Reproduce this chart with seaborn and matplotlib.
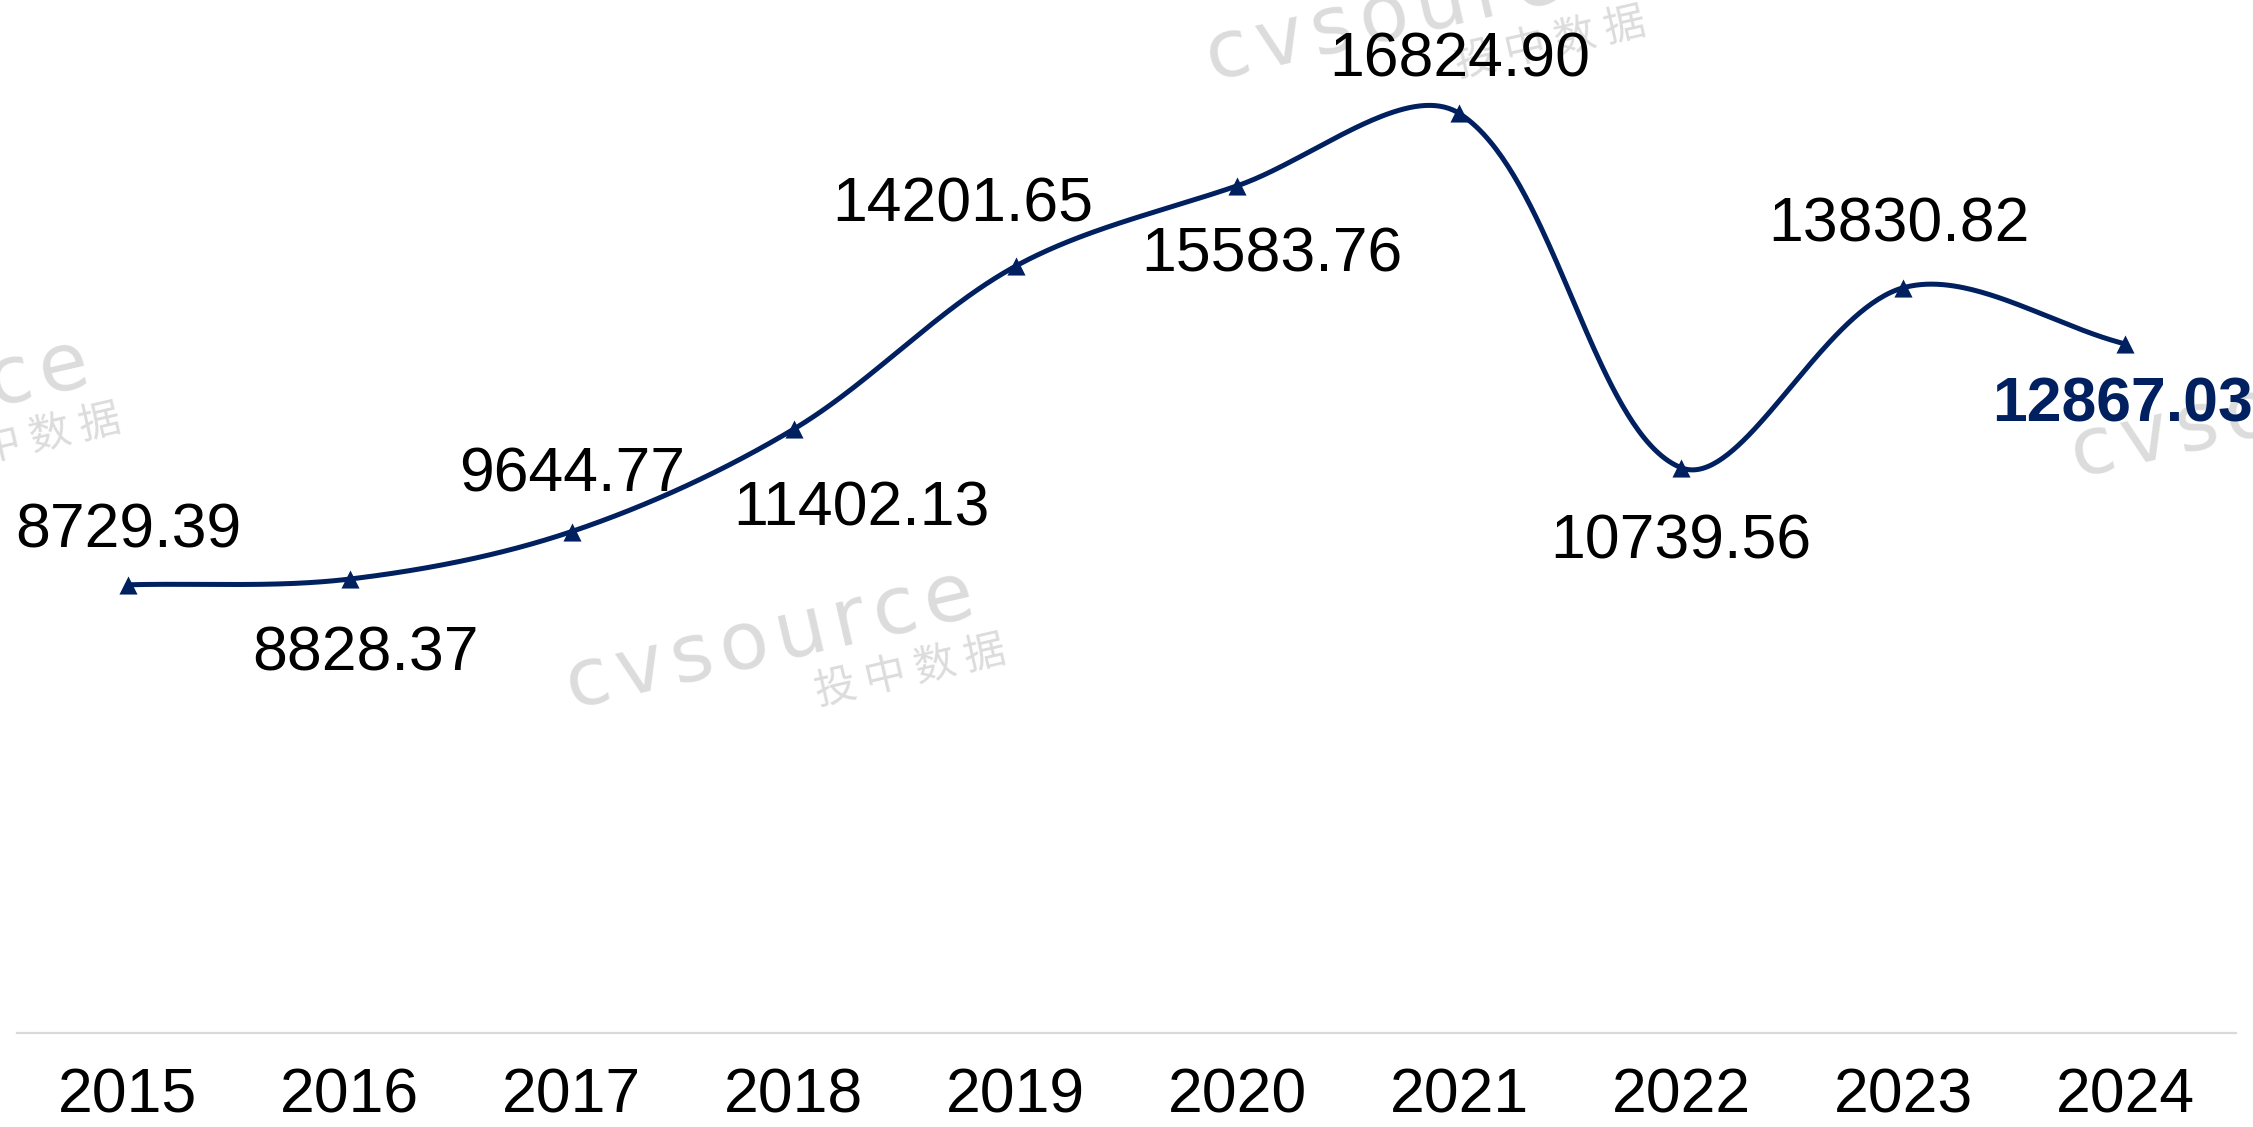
import numpy as np
import pandas as pd
import matplotlib
matplotlib.use("Agg")
import matplotlib.pyplot as plt
import seaborn as sns

# ---- data ----
years = ["2015", "2016", "2017", "2018", "2019", "2020", "2021", "2022", "2023", "2024"]
values = [8729.39, 8828.37, 9644.77, 11402.13, 14201.65, 15583.76, 16824.90, 10739.56, 13830.82, 12867.03]
value_labels = ["8729.39", "8828.37", "9644.77", "11402.13", "14201.65", "15583.76",
                "16824.90", "10739.56", "13830.82", "12867.03"]

# label offsets in pixels (style only)
label_offsets = [(0, 60), (16, -68), (0, 63), (68, -73), (-53, 68), (34, -63),
                 (0, 60), (0, -68), (-4, 69), (-3, -55)]

NAVY = "#002060"

sns.set_theme(style="white")
plt.rcParams["font.family"] = ["Liberation Sans", "DejaVu Sans"]

W, H = 2253, 1127
fig = plt.figure(figsize=(W / 100, H / 100), dpi=100)
AX_L, AX_R, AX_B = 17, 2236, 1033
ax = fig.add_axes([AX_L / W, 1 - AX_B / H, (AX_R - AX_L) / W, AX_B / H])
YMIN, YMAX = 1031, 18774
ax.set_xlim(-0.5, len(values) - 0.5)
ax.set_ylim(YMIN, YMAX)

x = np.arange(len(values), dtype=float)
y = np.array(values, dtype=float)

# Excel-style smoothed curve: Bezier through the points, arms weighted by chord length
sx = (AX_R - AX_L) / len(values)
sy = AX_B / (YMAX - YMIN)
P = np.column_stack([x * sx, y * sy])          # pixel-like space
n = len(P)
curve = []
t = np.linspace(0, 1, 80)[:, None]
def arms(i):
    p_prev = P[max(i - 1, 0)]
    p_next = P[min(i + 1, n - 1)]
    d_prev = np.linalg.norm(P[i] - p_prev)
    d_next = np.linalg.norm(p_next - P[i])
    tot = d_prev + d_next
    tan = p_next - p_prev
    if tot == 0:
        return np.zeros(2), np.zeros(2)
    return tan * d_prev / tot / 3.0, tan * d_next / tot / 3.0
for i in range(n - 1):
    p1, p2 = P[i], P[i + 1]
    _, a_out = arms(i)
    a_in, _ = arms(i + 1)
    c1 = p1 + a_out
    c2 = p2 - a_in
    seg = ((1 - t) ** 3) * p1 + 3 * ((1 - t) ** 2) * t * c1 + 3 * (1 - t) * t ** 2 * c2 + t ** 3 * p2
    curve.append(seg if i == 0 else seg[1:])
curve = np.vstack(curve)
curve_df = pd.DataFrame({"x": curve[:, 0] / sx, "y": curve[:, 1] / sy})

sns.lineplot(data=curve_df, x="x", y="y", sort=False, estimator=None, ax=ax,
             color=NAVY, linewidth=3.6, zorder=3)
pts = pd.DataFrame({"x": x, "y": y})
sns.scatterplot(data=pts, x="x", y="y", ax=ax, marker="^", s=170, color=NAVY,
                edgecolor=NAVY, linewidth=0, zorder=4)

for i, (xv, yv, lab) in enumerate(zip(x, y, value_labels)):
    dx, dy = label_offsets[i]
    last = i == len(values) - 1
    ax.annotate(lab, (xv, yv), xytext=(dx, dy), textcoords="offset pixels",
                ha="center", va="center_baseline", fontsize=45,
                fontweight="bold" if last else "normal",
                color=NAVY if last else "black", zorder=5, annotation_clip=False)

ax.set_xticks(x)
ax.set_xticklabels(years, fontsize=45, color="black")
ax.set_yticks([])
ax.set_xlabel("")
ax.set_ylabel("")
ax.tick_params(axis="x", length=0, pad=24)
for s in ["top", "right", "left"]:
    ax.spines[s].set_visible(False)
ax.spines["bottom"].set_color("#d9d9d9")
ax.spines["bottom"].set_linewidth(1.6)
ax.patch.set_alpha(0)

# watermarks (drawn behind the chart)
WM = "#dcdcdc"
HS = "\u200a"
WM_TEXT = HS.join("cvsource")
def watermark(cx, cy):
    fig.text(cx / W, 1 - cy / H, WM_TEXT, fontsize=58, color=WM, rotation=13,
             ha="center", va="center", family=["DejaVu Sans"], zorder=-1)
    fig.text((cx + 140) / W, 1 - (cy + 31) / H, "投 中 数 据", fontsize=30, color=WM,
             rotation=13, ha="center", va="center",
             family=["Noto Sans CJK SC", "DejaVu Sans"], zorder=-1)

watermark(770, 641)
watermark(1410, 13)
watermark(-115, 410)
watermark(2275, 410)

fig.savefig("out.png", dpi=100)
